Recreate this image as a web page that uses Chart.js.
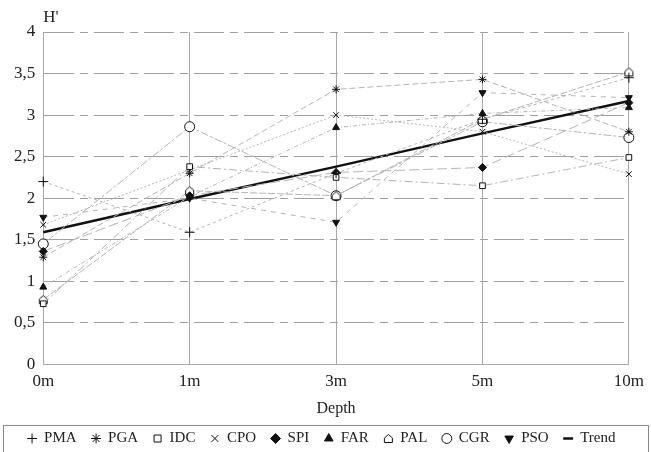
<!DOCTYPE html>
<html>
<head>
<meta charset="utf-8">
<script src="https://cdn.jsdelivr.net/npm/chart.js@4.4.1/dist/chart.umd.min.js"></script>
<style>
  html, body { margin: 0; padding: 0; background: #fff; }
  #wrap { width: 651px; height: 452px; }
</style>
</head>
<body>
<div id="wrap"><canvas id="hchart" width="651" height="452"></canvas></div>
<script>
const depths = ['0m', '1m', '3m', '5m', '10m']
const yTicks = [0, 0.5, 1, 1.5, 2, 2.5, 3, 3.5, 4]

const pma = [2.2, 1.59, 2.3, 2.95, 3.45]
const pga = [1.29, 2.3, 3.31, 3.43, 2.8]
const idc = [0.73, 2.38, 2.25, 2.15, 2.49]
const cpo = [1.68, 2.34, 3.0, 2.8, 2.29]
const spi = [1.36, 2.03, 2.31, 2.37, 3.15]
const far = [0.93, 2.02, 2.85, 3.02, 3.09]
const pal = [0.78, 2.09, 2.03, 2.95, 3.52]
const cgr = [1.45, 2.86, 2.03, 2.92, 2.73]
const pso = [1.77, 2.0, 1.71, 3.27, 3.21]
const trend = [1.59, 1.99, 2.38, 2.78, 3.17]

const serif = "'Liberation Serif', 'DejaVu Serif', serif"

// little house marker for PAL, chart.js has no such shape
const house = document.createElement('canvas')
house.width = 11
house.height = 11
const hc = house.getContext('2d')
hc.fillStyle = '#fff'
hc.strokeStyle = '#111'
hc.lineWidth = 1
hc.beginPath()
hc.moveTo(1.5, 5)
hc.lineTo(5.5, 1.5)
hc.lineTo(9.5, 5)
hc.lineTo(9.5, 9.5)
hc.lineTo(1.5, 9.5)
hc.closePath()
hc.fill()
hc.stroke()

const mkSeries = (label, data, style, filled, dash, extra) => ({
  label,
  data,
  borderColor: '#b4b4b4',
  borderWidth: 1,
  borderDash: dash,
  pointStyle: style,
  pointRadius: 4,
  pointBorderColor: '#111',
  pointBackgroundColor: filled ? '#111' : '#fff',
  pointBorderWidth: 1,
  tension: 0,
  fill: false,
  ...extra
})

const datasets = [
  mkSeries('PMA', pma, 'cross', false, [3, 3], {pointRadius: 5}),
  mkSeries('PGA', pga, 'star', false, [6, 3]),
  mkSeries('IDC', idc, 'rect', false, [8, 3, 2, 3]),
  mkSeries('CPO', cpo, 'crossRot', false, [2, 2]),
  mkSeries('SPI', spi, 'rectRot', true, [10, 4]),
  mkSeries('FAR', far, 'triangle', true, [4, 2, 1, 2]),
  mkSeries('PAL', pal, house, false, [7, 2]),
  mkSeries('CGR', cgr, 'circle', false, [3, 2, 8, 2], {pointRadius: 5}),
  mkSeries('PSO', pso, 'triangle', true, [5, 5], {pointRotation: 180}),
  {
    label: 'Trend',
    data: trend,
    borderColor: '#111',
    borderWidth: 2.5,
    pointRadius: 0,
    pointStyle: 'line',
    tension: 0,
    fill: false
  }
]

const extras = {
  id: 'extras',
  afterDraw(chart) {
    const ctx = chart.ctx
    const area = chart.chartArea
    ctx.save()
    ctx.fillStyle = '#222'
    ctx.font = '17px ' + serif
    ctx.textBaseline = 'middle'
    ctx.textAlign = 'left'
    ctx.fillText("H'", area.left, 18)
    // frame round the legend row
    const boxes = chart.legend.legendHitBoxes
    if (boxes && boxes.length) {
      const mid = boxes[0].top + boxes[0].height / 2
      ctx.strokeStyle = '#888'
      ctx.lineWidth = 1
      ctx.strokeRect(3.5, Math.round(mid) - 13.5, 645, 27)
    }
    ctx.restore()
  }
}

const ctxCanvas = document.getElementById('hchart').getContext('2d')
const myChart = new Chart(ctxCanvas, {
  type: 'line',
  data: {labels: depths, datasets},
  plugins: [extras],
  options: {
    responsive: false,
    animation: false,
    layout: {padding: {left: 6, right: 14, top: 32, bottom: -4}},
    scales: {
      x: {
        offset: false,
        grid: {color: '#a8a8a8', lineWidth: 1, drawTicks: false},
        border: {color: '#a8a8a8'},
        ticks: {color: '#222', font: {family: serif, size: 17}, padding: 7, maxRotation: 0},
        title: {display: true, text: 'Depth', color: '#222', font: {family: serif, size: 16}, padding: {top: 0, bottom: -2}}
      },
      y: {
        min: 0,
        max: 4,
        afterBuildTicks: (axis) => { axis.ticks = yTicks.map(v => ({value: v})) },
        grid: {color: '#a0a0a0', lineWidth: 1, drawTicks: false},
        border: {color: '#a8a8a8', dash: [30, 6, 8, 6]},
        ticks: {
          color: '#222',
          font: {family: serif, size: 17},
          padding: 8,
          callback: (v) => String(v).replace('.', ',')
        }
      }
    },
    plugins: {
      legend: {
        position: 'bottom',
        labels: {
          usePointStyle: true,
          boxHeight: 7,
          boxWidth: 9,
          padding: 15,
          color: '#222',
          font: {family: serif, size: 15}
        }
      },
      tooltip: {enabled: false}
    }
  }
})
</script>
</body>
</html>
